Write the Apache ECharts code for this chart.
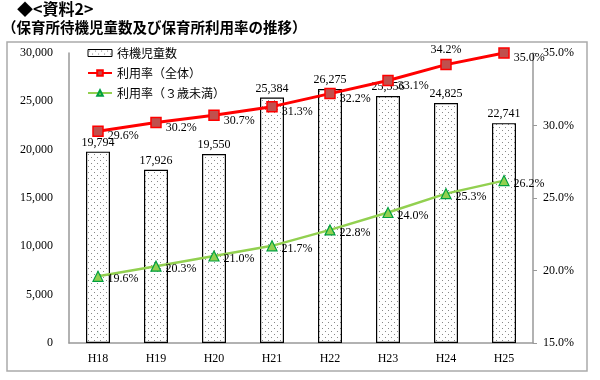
<!DOCTYPE html>
<html><head><meta charset="utf-8">
<script src="https://cdn.jsdelivr.net/npm/echarts@6/dist/echarts.min.js"></script>
<style>html,body{margin:0;padding:0;background:#fff}#c{width:600px;height:380px}</style>
</head><body><div id="c"></div>
<script>
const categories = ['H18','H19','H20','H21','H22','H23','H24','H25'];
const waiting = [19794, 17926, 19550, 25384, 26275, 25556, 24825, 22741];
const rateAll = [29.6, 30.2, 30.7, 31.3, 32.2, 33.1, 34.2, 35.0];
const rateUnder3 = [19.6, 20.3, 21.0, 21.7, 22.8, 24.0, 25.3, 26.2];
const seriesNames = ['待機児童数', '利用率（全体）', '利用率（３歳未満）'];

const pc = document.createElement('canvas');
pc.width = 6; pc.height = 6;
const g = pc.getContext('2d');
g.fillStyle = '#fff'; g.fillRect(0,0,6,6);
g.fillStyle = '#888';
g.fillRect(1,1,1,1); g.fillRect(4,4,1,1);
const pattern = {image:pc, repeat:'repeat'};

const serif = '"Liberation Serif", "DejaVu Serif", serif';
const jp = '"Noto Sans CJK JP", sans-serif';
const pct = p => p.value.toFixed(1) + '%';
const chart = echarts.init(document.getElementById('c'), null, {renderer:'canvas'});
chart.setOption({
  animation: false,
  backgroundColor: '#fff',
  graphic: [
    {type:'rect', shape:{x:7, y:42, width:580, height:329}, style:{fill:'none', stroke:'#aaa', lineWidth:1.5}, z:-1},
    {type:'text', left:17, top:1, style:{text:'◆<資料2>', font:'bold 16px "Noto Sans CJK JP", sans-serif', fill:'#000'}},
    {type:'text', left:2, top:20, style:{text:'（保育所待機児童数及び保育所利用率の推移）', font:'bold 14.5px "Noto Sans CJK JP", sans-serif', fill:'#000'}}
  ],
  grid: {left:69, right:67, top:53, bottom:37},
  legend: {
    orient:'vertical', left:87, top:47, padding:0, itemWidth:24, itemHeight:7, itemGap:8,
    textStyle:{fontFamily:jp, fontSize:12, color:'#000'},
    data: [
      {name:seriesNames[0], icon:'rect', itemStyle:{color:pattern, borderColor:'#000', borderWidth:1}},
      {name:seriesNames[1]},
      {name:seriesNames[2]}
    ]
  },
  xAxis: {
    type:'category', data:categories,
    axisLine:{lineStyle:{color:'#999', width:1.5}},
    axisTick:{show:false},
    axisLabel:{fontFamily:serif, fontSize:12, color:'#000', margin:10}
  },
  yAxis: [
    {type:'value', min:0, max:30000, interval:5000, splitLine:{show:false},
     axisLine:{show:true, lineStyle:{color:'#999', width:1.5}}, axisTick:{show:false},
     axisLabel:{fontFamily:serif, fontSize:12, color:'#000', margin:16,
       formatter: v => v.toLocaleString('en-US')}},
    {type:'value', min:15, max:35, interval:5, position:'right', splitLine:{show:false},
     axisLine:{show:true, lineStyle:{color:'#999', width:1.5}},
     axisTick:{show:true, length:4, lineStyle:{color:'#999'}},
     axisLabel:{fontFamily:serif, fontSize:12, color:'#000', margin:10, formatter: v => v.toFixed(1) + '%'}}
  ],
  series: [
    {name:seriesNames[0], type:'bar', data:waiting, barWidth:24,
     itemStyle:{color:pattern, borderColor:'#000', borderWidth:1.2},
     label:{show:true, position:'top', distance:3, fontFamily:serif, fontSize:12, color:'#000',
       formatter: p => p.value.toLocaleString('en-US')}},
    {name:seriesNames[1], type:'line', yAxisIndex:1,
     data: rateAll.map((v, i) => i === 6 ? {value:v, label:{position:'top', offset:[0,0], distance:3}} : v),
     symbol:'rect', symbolSize:10,
     lineStyle:{color:'#ff0000', width:3},
     itemStyle:{color:'#c0504d', borderColor:'#ff0000', borderWidth:1.5},
     label:{show:true, position:'right', distance:4, offset:[0,5], fontFamily:serif, fontSize:12, color:'#000',
       formatter: pct}},
    {name:seriesNames[2], type:'line', yAxisIndex:1, data:rateUnder3,
     symbol:'triangle', symbolSize:10,
     lineStyle:{color:'#92d050', width:2.5},
     itemStyle:{color:'#92d050', borderColor:'#00a040', borderWidth:1.2},
     label:{show:true, position:'right', distance:4, offset:[0,3], fontFamily:serif, fontSize:12, color:'#000',
       formatter: pct}}
  ]
});
</script></body></html>
